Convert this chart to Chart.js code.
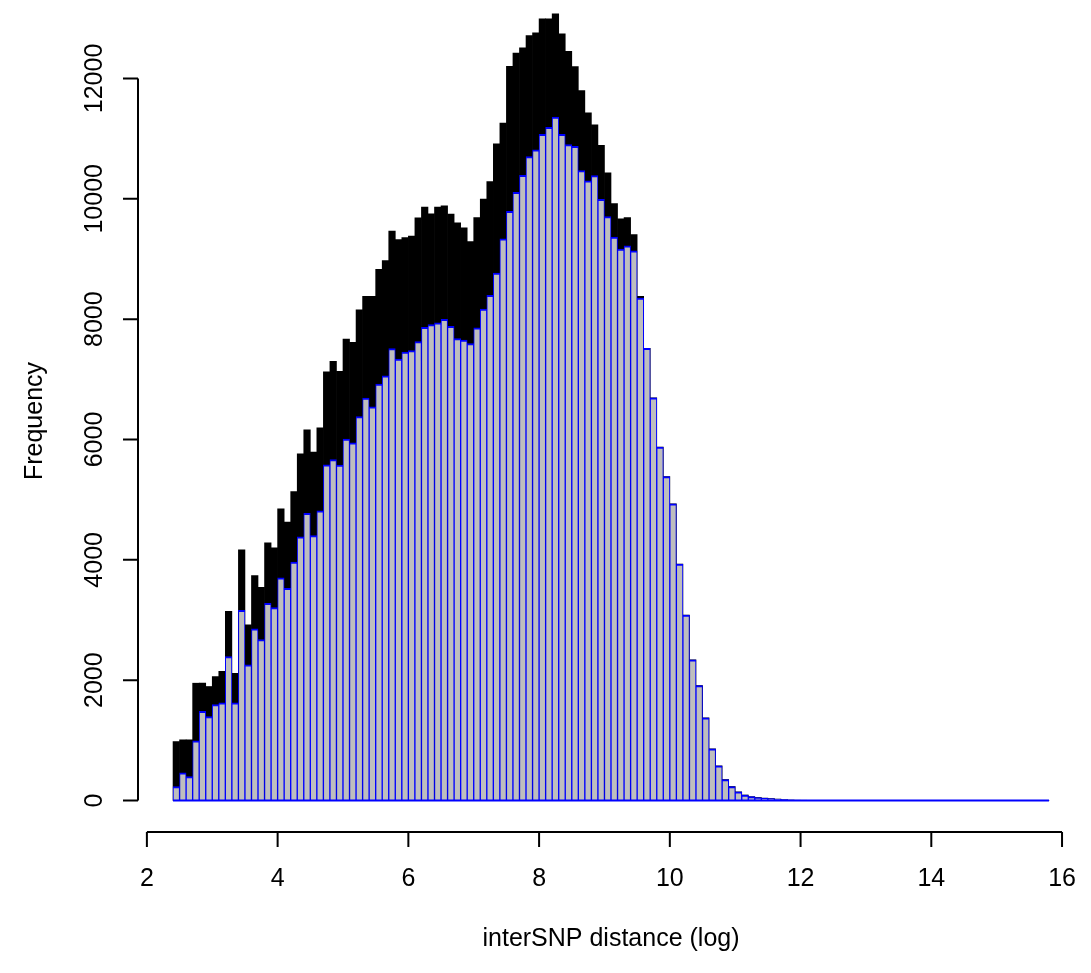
<!DOCTYPE html>
<html>
<head>
<meta charset="utf-8">
<script src="https://cdn.jsdelivr.net/npm/chart.js@4/dist/chart.umd.min.js"></script>
<style>
  html, body { margin: 0; padding: 0; background: #ffffff; }
  #wrap { width: 1091px; height: 973px; position: relative; }
</style>
</head>
<body>
<div id="wrap"><canvas id="c" width="1091" height="973"></canvas></div>
<script>
// ---- histogram breaks (bin grid) ----
const binStart = 2.4;
const binWidth = 0.1;
const binCount = 134;
const binMids = Array.from({ length: binCount }, (_, i) => +(binStart + binWidth * (i + 0.5)).toFixed(2));

// ---- series: counts per bin ----
const allCounts = [
  980, 1009, 1009, 1950, 1950, 1895, 2061, 2149, 3146, 2116,
  4166, 2920, 3740, 3545, 4282, 4199, 4847, 4626, 5135, 5761,
  6160, 5793, 6194, 7124, 7301, 7135, 7667, 7617, 8155, 8381,
  8381, 8827, 8975, 9462, 9323, 9357, 9379, 9684, 9861, 9751,
  9861, 9883, 9748, 9600, 9518, 9290, 9687, 9997, 10288, 10915,
  11260, 12200, 12420, 12509, 12714, 12758, 12991, 12991, 13074, 12741,
  12453, 12199, 11800, 11429, 11230, 10890, 10432, 9920, 9667, 9687,
  9404, 8381, 7517, 6692, 5872, 5385, 4931, 3928, 3080, 2338,
  1911, 1374, 859, 576, 349, 233, 144, 92, 64, 50,
  40, 32, 24, 14, 8, 5, 4, 3, 2, 2,
  1, 1, 1, 1, 0, 1, 0, 0, 0, 0,
  0, 0, 0, 0, 0, 0, 0, 0, 0, 0,
  0, 0, 0, 0, 0, 0, 0, 0, 0, 0,
  0, 0, 0, 1
];
const subsetCounts = [
  233, 460, 399, 992, 1484, 1396, 1595, 1623, 2393, 1623,
  3163, 2255, 2853, 2676, 3279, 3208, 3701, 3526, 3961, 4382,
  4775, 4404, 4814, 5579, 5668, 5573, 6005, 5944, 6380, 6689,
  6545, 6922, 7058, 7510, 7338, 7451, 7479, 7628, 7866, 7911,
  7939, 7999, 7880, 7678, 7651, 7595, 7855, 8168, 8398, 8764,
  9337, 9791, 10107, 10390, 10702, 10816, 11071, 11188, 11357, 11071,
  10900, 10871, 10470, 10301, 10387, 9990, 9703, 9365, 9163, 9218,
  9135, 8350, 7517, 6692, 5872, 5385, 4931, 3928, 3080, 2338,
  1911, 1374, 859, 576, 349, 233, 144, 92, 64, 50,
  40, 32, 24, 14, 8, 5, 4, 3, 2, 2,
  1, 1, 1, 1, 0, 1, 0, 0, 0, 0,
  0, 0, 0, 0, 0, 0, 0, 0, 0, 0,
  0, 0, 0, 0, 0, 0, 0, 0, 0, 0,
  0, 0, 0, 1
];

// ---- tick labels and axis titles ----
const xTickValues = [2, 4, 6, 8, 10, 12, 14, 16];
const yTickValues = [0, 2000, 4000, 6000, 8000, 10000, 12000];
const xTitle = 'interSNP distance (log)';
const yTitle = 'Frequency';

// ---- styling ----
const FONT_FAMILY = "'Liberation Sans', Arial, Helvetica, sans-serif";
const FONT_SIZE = 25;
const TICK_LEN = 15;

const rAxesPlugin = {
  id: 'rAxes',
  afterDatasetsDraw(chart) {
    const { ctx, chartArea, scales } = chart;
    const xs = scales.x, ys = scales.y;
    ctx.save();
    // blue baseline under the subset histogram (R draws zero-height rects)
    const meta = chart.getDatasetMeta(0);
    if (meta.data.length) {
      const first = meta.data[0], last = meta.data[meta.data.length - 1];
      const y0 = ys.getPixelForValue(0);
      ctx.strokeStyle = '#0000FF';
      ctx.lineWidth = 2;
      ctx.beginPath();
      ctx.moveTo(first.x - first.width / 2, y0);
      ctx.lineTo(last.x + last.width / 2, y0);
      ctx.stroke();
    }
    ctx.restore();
  },
  afterDraw(chart) {
    const { ctx, chartArea, scales } = chart;
    const xs = scales.x, ys = scales.y;
    ctx.save();
    ctx.strokeStyle = '#000';
    ctx.fillStyle = '#000';
    ctx.lineWidth = 2;
    ctx.font = FONT_SIZE + 'px ' + FONT_FAMILY;
    // x axis
    const ax = chartArea.bottom;
    const x0 = xs.getPixelForValue(xTickValues[0]);
    const x1 = xs.getPixelForValue(xTickValues[xTickValues.length - 1]);
    ctx.beginPath();
    ctx.moveTo(x0, ax); ctx.lineTo(x1, ax);
    xTickValues.forEach(v => {
      const px = xs.getPixelForValue(v);
      ctx.moveTo(px, ax); ctx.lineTo(px, ax + TICK_LEN);
    });
    ctx.stroke();
    ctx.textAlign = 'center';
    ctx.textBaseline = 'alphabetic';
    xTickValues.forEach(v => {
      ctx.fillText(String(v), xs.getPixelForValue(v), ax + 54);
    });
    ctx.fillText(xTitle, (chartArea.left + chartArea.right) / 2, ax + 114);
    // y axis
    const ayx = chartArea.left;
    const y0 = ys.getPixelForValue(yTickValues[0]);
    const y1 = ys.getPixelForValue(yTickValues[yTickValues.length - 1]);
    ctx.beginPath();
    ctx.moveTo(ayx, y0); ctx.lineTo(ayx, y1);
    yTickValues.forEach(v => {
      const py = ys.getPixelForValue(v);
      ctx.moveTo(ayx, py); ctx.lineTo(ayx - TICK_LEN, py);
    });
    ctx.stroke();
    yTickValues.forEach(v => {
      const py = ys.getPixelForValue(v);
      ctx.save();
      ctx.translate(ayx - 36, py);
      ctx.rotate(-Math.PI / 2);
      ctx.fillText(String(v), 0, 0);
      ctx.restore();
    });
    ctx.save();
    ctx.translate(ayx - 96, (chartArea.top + chartArea.bottom) / 2);
    ctx.rotate(-Math.PI / 2);
    ctx.fillText(yTitle, 0, 0);
    ctx.restore();
    ctx.restore();
  }
};

const ctx = document.getElementById('c').getContext('2d');
new Chart(ctx, {
  type: 'bar',
  data: {
    datasets: [
      {
        label: 'subset',
        data: binMids.map((x, i) => ({ x: x, y: subsetCounts[i] })),
        backgroundColor: '#BEBEBE',
        borderColor: '#0000FF',
        borderWidth: { top: 2, left: 1, right: 1, bottom: 0 },
        borderSkipped: false,
        grouped: false,
        barPercentage: 1,
        categoryPercentage: 1
      },
      {
        label: 'all',
        data: binMids.map((x, i) => ({ x: x, y: allCounts[i] })),
        backgroundColor: '#000000',
        borderColor: '#000000',
        borderWidth: 0,
        grouped: false,
        barPercentage: 1,
        categoryPercentage: 1
      }
    ]
  },
  options: {
    responsive: false,
    animation: false,
    devicePixelRatio: 1,
    layout: { padding: { top: 10, right: 7, left: 0, bottom: 0 } },
    plugins: { legend: { display: false }, tooltip: { enabled: false } },
    scales: {
      x: {
        type: 'linear',
        min: 1.864,
        max: 16.336,
        offset: false,
        afterBuildTicks: s => { s.ticks = xTickValues.map(v => ({ value: v })); },
        grid: { display: false, offset: false },
        border: { display: false },
        ticks: { display: false },
        afterFit: s => { s.height = 141; }
      },
      y: {
        type: 'linear',
        min: -523,
        max: 13138,
        afterBuildTicks: s => { s.ticks = yTickValues.map(v => ({ value: v })); },
        grid: { display: false },
        border: { display: false },
        ticks: { display: false },
        afterFit: s => { s.width = 138; }
      }
    }
  },
  plugins: [rAxesPlugin]
});
</script>
</body>
</html>
